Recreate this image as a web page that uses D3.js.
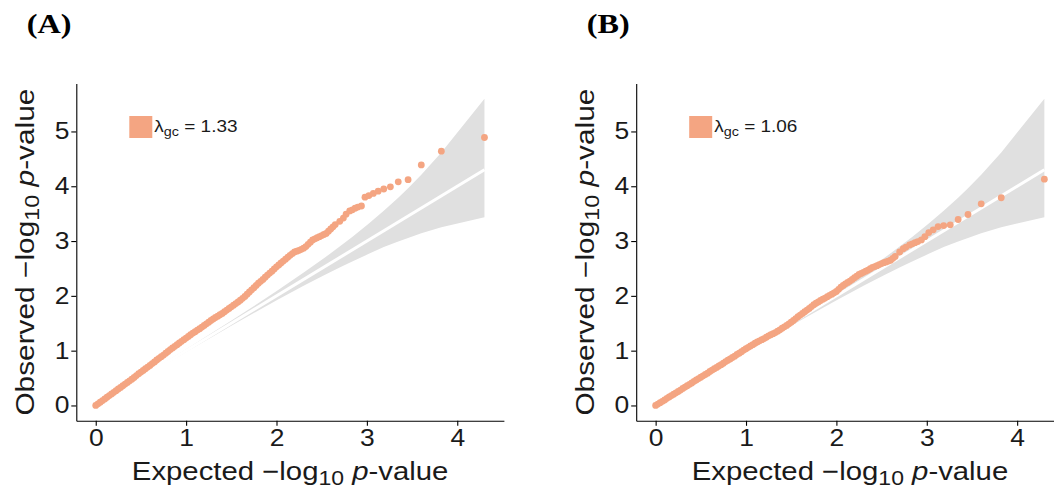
<!DOCTYPE html>
<html lang="en">
    <head>
        <meta charset="utf-8">
        <title>QQ plots</title>
        <script type="text/javascript" src="https://d3js.org/d3.v7.min.js"></script>
        <style>
            body { margin: 0; background: #fff; }
            text { font-family: "Liberation Sans", Arial, sans-serif; fill: #1a1a1a; }
            .axis path, .axis line { stroke: #000; stroke-width: 1.1px; }
        </style>
    </head>
    <body>
        <svg id="chart" width="1054" height="490"></svg>
    </body>
    <script>
        // expected -log10 p (shared by both panels)
        let expected = [
            0.000, 0.025, 0.050, 0.075, 0.100, 0.125, 0.150, 0.175, 0.200, 0.225,
            0.250, 0.275, 0.300, 0.325, 0.350, 0.375, 0.400, 0.425, 0.450, 0.475,
            0.500, 0.525, 0.550, 0.575, 0.600, 0.625, 0.650, 0.675, 0.700, 0.725,
            0.750, 0.775, 0.800, 0.825, 0.850, 0.875, 0.900, 0.925, 0.950, 0.975,
            1.000, 1.025, 1.050, 1.075, 1.100, 1.125, 1.150, 1.175, 1.200, 1.225,
            1.250, 1.275, 1.300, 1.325, 1.350, 1.375, 1.400, 1.425, 1.450, 1.475,
            1.500, 1.525, 1.550, 1.575, 1.600, 1.625, 1.650, 1.675, 1.700, 1.725,
            1.750, 1.775, 1.800, 1.825, 1.850, 1.875, 1.900, 1.925, 1.950, 1.975,
            2.000, 2.025, 2.050, 2.075, 2.100, 2.125, 2.150, 2.175, 2.200, 2.225,
            2.250, 2.275, 2.300, 2.325, 2.350, 2.375, 2.400, 2.425, 2.450, 2.475,
            2.500, 2.525, 2.550, 2.575, 2.600, 2.625, 2.650,
            2.70, 2.74, 2.77, 2.81, 2.84, 2.87, 2.90, 2.94,
            2.979, 3.022, 3.071, 3.125, 3.187, 3.260, 3.347, 3.456, 3.602, 3.824, 4.301
        ];

        // observed -log10 p, panel A
        let observedA = [
            0.00, 0.03, 0.06, 0.09, 0.12, 0.15, 0.18, 0.21, 0.24, 0.27,
            0.30, 0.33, 0.36, 0.39, 0.42, 0.45, 0.48, 0.51, 0.545, 0.58,
            0.61, 0.64, 0.67, 0.70, 0.73, 0.765, 0.795, 0.83, 0.86, 0.89,
            0.92, 0.955, 0.985, 1.02, 1.05, 1.08, 1.11, 1.14, 1.17, 1.20,
            1.23, 1.26, 1.29, 1.32, 1.345, 1.375, 1.40, 1.43, 1.46, 1.49,
            1.52, 1.55, 1.58, 1.605, 1.63, 1.655, 1.68, 1.71, 1.74, 1.77,
            1.80, 1.83, 1.86, 1.89, 1.92, 1.955, 1.99, 2.03, 2.07, 2.11,
            2.15, 2.19, 2.23, 2.265, 2.30, 2.34, 2.38, 2.415, 2.45, 2.49,
            2.53, 2.565, 2.60, 2.635, 2.67, 2.705, 2.74, 2.77, 2.80, 2.815,
            2.83, 2.85, 2.87, 2.90, 2.94, 2.98, 3.02, 3.04, 3.06, 3.08,
            3.10, 3.12, 3.14, 3.18, 3.22, 3.26, 3.30,
            3.36, 3.42, 3.49, 3.55, 3.57, 3.60, 3.62, 3.64,
            3.80, 3.83, 3.87, 3.91, 3.95, 3.99, 4.08, 4.12, 4.39, 4.64, 4.89
        ];

        // observed -log10 p, panel B
        let observedB = [
            0.00, 0.025, 0.05, 0.075, 0.10, 0.13, 0.155, 0.18, 0.205, 0.23,
            0.255, 0.28, 0.31, 0.335, 0.36, 0.385, 0.41, 0.44, 0.465, 0.49,
            0.515, 0.54, 0.565, 0.59, 0.62, 0.645, 0.67, 0.695, 0.72, 0.745,
            0.77, 0.80, 0.825, 0.85, 0.875, 0.90, 0.93, 0.955, 0.98, 1.01,
            1.035, 1.06, 1.085, 1.11, 1.135, 1.16, 1.18, 1.20, 1.22, 1.245,
            1.27, 1.29, 1.31, 1.33, 1.355, 1.38, 1.41, 1.435, 1.46, 1.49,
            1.52, 1.55, 1.585, 1.62, 1.65, 1.68, 1.71, 1.74, 1.77, 1.805,
            1.84, 1.865, 1.89, 1.915, 1.94, 1.96, 1.985, 2.01, 2.03, 2.055,
            2.08, 2.12, 2.16, 2.19, 2.22, 2.245, 2.27, 2.30, 2.33, 2.36,
            2.39, 2.41, 2.43, 2.45, 2.47, 2.495, 2.52, 2.535, 2.55, 2.57,
            2.59, 2.605, 2.62, 2.635, 2.65, 2.685, 2.72,
            2.80, 2.86, 2.89, 2.93, 2.95, 2.97, 2.99, 3.02,
            3.08, 3.155, 3.205, 3.265, 3.283, 3.296, 3.393, 3.485, 3.68, 3.79, 4.13
        ];

        // 95% confidence band
        let ciX  = [0, 0.5, 1.0, 1.301, 1.524, 1.700, 2.002, 2.305, 2.532, 2.710, 2.838, 3.022, 3.187, 3.347, 3.456, 3.602, 3.824, 4.301];
        let ciLo = [0, 0.488, 0.975, 1.264, 1.476, 1.641, 1.919, 2.189, 2.379, 2.528, 2.629, 2.767, 2.892, 2.990, 3.057, 3.141, 3.254, 3.433];
        let ciHi = [0, 0.513, 1.026, 1.340, 1.572, 1.760, 2.090, 2.431, 2.694, 2.913, 3.076, 3.319, 3.551, 3.790, 3.963, 4.209, 4.616, 5.597];

        let panelLabels = ["(A)", "(B)"];
        let lambdas = ["1.33", "1.06"];

        let svg = d3.select("#chart");
        let sx = 1.15;  // text in the figure is drawn a bit wide
        let pointColor = "#F4A582";

        let xExt = d3.extent(expected.concat(ciX));
        let yExt = d3.extent(observedA.concat(observedB, ciHi));
        let xPad = (xExt[1] - xExt[0]) * 0.05;
        let yPad = (yExt[1] - yExt[0]) * 0.05;

        function drawPanel(left, label, lambda, observed) {
            let width = 427.6;
            let top = 83.4, bottom = 420.8;

            let x = d3.scaleLinear()
                .domain([xExt[0] - xPad, xExt[1] + xPad])
                .range([left, left + width]);
            let y = d3.scaleLinear()
                .domain([0 - yPad, yExt[1] + yPad])
                .range([bottom, top]);

            let g = svg.append("g");

            // confidence band
            let band = ciX.map((d, i) => ({x: d, lo: ciLo[i], hi: ciHi[i]}));
            g.append("path")
                .datum(band)
                .attr("fill", "#e0e0e0")
                .attr("d", d3.area().x(d => x(d.x)).y0(d => y(d.lo)).y1(d => y(d.hi)));

            // expected line
            g.append("line")
                .attr("x1", x(0)).attr("y1", y(0))
                .attr("x2", x(xExt[1])).attr("y2", y(xExt[1]))
                .attr("stroke", "white")
                .attr("stroke-width", 3);

            // points
            g.append("g").selectAll("circle")
                .data(expected.map((d, i) => [d, observed[i]]))
                .enter()
                .append("circle")
                .attr("cx", d => x(d[0]))
                .attr("cy", d => y(d[1]))
                .attr("r", 3.4)
                .attr("fill", pointColor);

            // axes
            let xAxis = g.append("g")
                .attr("class", "axis")
                .attr("transform", "translate(0," + bottom + ")")
                .call(d3.axisBottom(x).ticks(5).tickSize(5).tickSizeOuter(0).tickPadding(4));
            xAxis.selectAll("text")
                .attr("font-size", 23)
                .attr("transform", "scale(" + sx + ",1)");

            let yAxis = g.append("g")
                .attr("class", "axis")
                .attr("transform", "translate(" + left + ",0)")
                .call(d3.axisLeft(y).ticks(6).tickSize(5).tickSizeOuter(0).tickPadding(1));
            yAxis.selectAll("text")
                .attr("font-size", 23)
                .attr("transform", "scale(" + sx + ",1)");
            g.selectAll(".axis text").attr("fill", "#1a1a1a");

            // x title
            let xt = g.append("text")
                .attr("transform", "translate(" + (left + width / 2) + ",480) scale(" + sx + ",1)")
                .attr("text-anchor", "middle")
                .attr("font-size", 25.5);
            xt.append("tspan").text("Expected \u2212log");
            xt.append("tspan").attr("font-size", 20).attr("dy", 5).text("10");
            xt.append("tspan").attr("dy", -5).text(" ");
            xt.append("tspan").attr("font-style", "italic").text("p");
            xt.append("tspan").text("-value");

            // y title
            let yt = g.append("text")
                .attr("transform", "translate(" + (left - 42.5) + "," + ((top + bottom) / 2) + ") rotate(-90) scale(1.17,1)")
                .attr("text-anchor", "middle")
                .attr("font-size", 25.5);
            yt.append("tspan").text("Observed \u2212log");
            yt.append("tspan").attr("font-size", 20).attr("dy", 5).text("10");
            yt.append("tspan").attr("dy", -5).text(" ");
            yt.append("tspan").attr("font-style", "italic").text("p");
            yt.append("tspan").text("-value");

            // legend
            g.append("rect")
                .attr("x", left + 53)
                .attr("y", 116)
                .attr("width", 23)
                .attr("height", 22)
                .attr("fill", pointColor);
            let lt = g.append("text")
                .attr("transform", "translate(" + (left + 78) + ",131.5) scale(" + sx + ",1)")
                .attr("font-size", 16.5);
            lt.append("tspan").text("\u03bb");
            lt.append("tspan").attr("font-size", 12.5).attr("dy", 4).text("gc");
            lt.append("tspan").attr("dy", -4).text(" = " + lambda);

            // panel label
            svg.append("text")
                .attr("transform", "translate(" + (left - 49.5) + ",33) scale(" + sx + ",1)")
                .style("font-family", "'Liberation Serif', 'Times New Roman', serif")
                .style("font-weight", "bold")
                .style("fill", "#000")
                .attr("font-size", 28)
                .text(label);
        }

        drawPanel(76.3, panelLabels[0], lambdas[0], observedA);
        drawPanel(636.2, panelLabels[1], lambdas[1], observedB);
    </script>
</html>
